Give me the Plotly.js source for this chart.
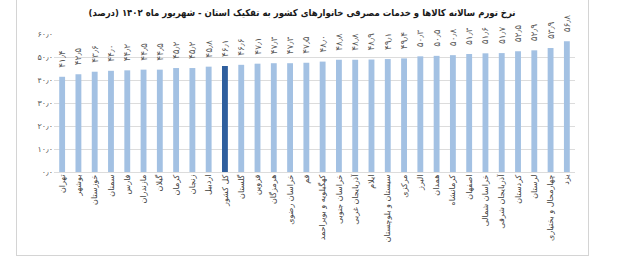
<!DOCTYPE html>
<html>
<head>
<meta charset="utf-8">
<script src="https://cdn.plot.ly/plotly-3.0.1.min.js"></script>
<style>
html,body{margin:0;padding:0;background:#fff;}
#wrap{position:relative;width:640px;height:262px;overflow:hidden;}
#frame{position:absolute;left:16px;top:-2px;width:573px;height:258px;border:1px solid #d4d4d4;box-sizing:border-box;}
#chart{position:absolute;left:0;top:0;width:640px;height:262px;}
</style>
</head>
<body>
<div id="wrap"><div id="frame"></div><div id="chart"></div></div>
<script>
const provinces = ["تهران","بوشهر","خوزستان","سمنان","فارس","مازندران","گیلان","کرمان","زنجان","اردبیل","کل کشور","گلستان","قزوین","هرمزگان","خراسان رضوی","قم","کهگیلویه و بویراحمد","خراسان جنوبی","آذربایجان غربی","ایلام","سیستان و بلوچستان","مرکزی","البرز","همدان","کرمانشاه","اصفهان","خراسان شمالی","آذربایجان شرقی","کردستان","لرستان","چهارمحال و بختیاری","یزد"];
const inflation = [41.4,42.5,43.6,44.0,44.2,44.5,44.5,45.2,45.2,45.8,46.1,46.6,47.1,47.3,47.3,47.5,48.0,48.8,48.8,48.9,49.1,49.4,50.3,50.5,50.8,51.3,51.6,51.7,52.5,52.9,53.9,56.8];
const highlight = "کل کشور";
const yTicks = [0,10,20,30,40,50,60];
const titleText = "نرخ تورم سالانه کالاها و خدمات مصرفی خانوارهای کشور به تفکیک استان - شهریور ماه ۱۴۰۲ (درصد)";

const fa = s => String(s).replace(/[0-9]/g, d => "۰۱۲۳۴۵۶۷۸۹"[+d]).replace(".", "٫");
const labels = inflation.map(v => "\u2002\u2002" + fa(v.toFixed(1)));
const colors = provinces.map(p => p === highlight ? "#2f5f9e" : "#a3c1e3");

const trace = {
  type: "bar",
  x: provinces,
  y: inflation,
  marker: {color: colors},
  text: labels,
  textposition: "outside",
  textangle: -90,
  constraintext: "none",
  textfont: {family: "DejaVu Sans", size: 9, color: "#595959"},
  cliponaxis: false,
  hoverinfo: "none"
};

const layout = {
  width: 640, height: 262,
  margin: {l: 54, r: 65, t: 34, b: 90},
  paper_bgcolor: "rgba(0,0,0,0)",
  plot_bgcolor: "rgba(0,0,0,0)",
  bargap: 0.64,
  showlegend: false,
  title: {
    text: "<b>\u202B" + titleText + "\u202C</b>",
    font: {family: "DejaVu Sans Condensed", size: 9.5, color: "#1a1a1a"},
    x: 0.472, xanchor: "center", xref: "container",
    y: 0.953, yanchor: "middle", yref: "container"
  },
  xaxis: {
    type: "category",
    tickangle: -90,
    tickfont: {family: "DejaVu Sans", size: 8, color: "#404040"},
    showgrid: false, showline: false, ticks: "",
    automargin: false
  },
  yaxis: {
    range: [0, 60],
    tickvals: yTicks,
    ticktext: yTicks.map(v => fa(v.toFixed(1))),
    tickfont: {family: "DejaVu Sans", size: 8, color: "#595959"},
    showgrid: true, gridcolor: "#dcdcdc", gridwidth: 1,
    zeroline: true, zerolinecolor: "#dcdcdc",
    ticks: "", ticklen: 0,
    automargin: false
  }
};

Plotly.newPlot("chart", [trace], layout, {displayModeBar: false, staticPlot: true});
</script>
</body>
</html>
